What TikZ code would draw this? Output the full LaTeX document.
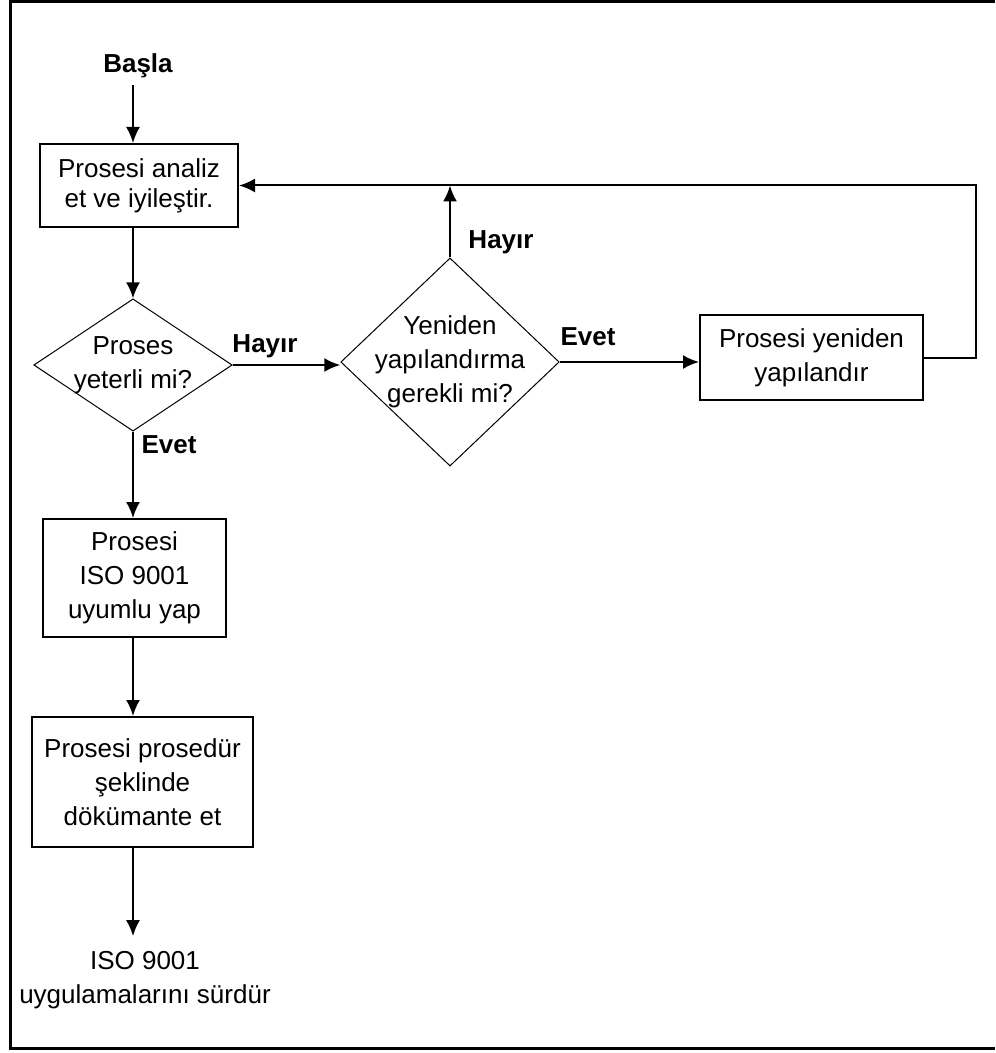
\documentclass[tikz,border=0pt]{standalone}
\usepackage{fontspec}
\setmainfont{Liberation Sans}
\usetikzlibrary{shapes.geometric}
\usetikzlibrary{arrows.meta}

\tikzset{
  txt/.style={font=\fontsize{13pt}{17pt}\selectfont, align=center},
  box/.style={txt, draw, line width=1pt, inner sep=0pt},
  decision/.style={txt, draw, diamond, line width=0.5pt},
  yesno/.style={font=\fontsize{13pt}{17pt}\selectfont\bfseries},
  flow/.style={line width=1pt, -{Latex[length=8pt,width=7pt]}},
}

\begin{document}
\begin{tikzpicture}[x=0.5pt,y=-0.5pt]
    \useasboundingbox (0,0) rectangle (995,1053);
    % frame
    \draw[line width=1.5pt] (995,2) -- (10,2) -- (10,1048) -- (995,1048);

    \node[yesno] (start) at (138,66) {Başla};
    \node[box, minimum width=99pt, minimum height=41.5pt, font=\fontsize{13pt}{15pt}\selectfont] (analyse) at (139,185.5) {Prosesi analiz\\et ve iyileştir.};
    \node[decision, aspect=1.5, inner sep=-0.6pt] (adequate) at (133,365) {Proses\\yeterli mi?};
    \node[decision, aspect=1.05, inner sep=-3.5pt] (restructq) at (450,362) {Yeniden\\yapılandırma\\gerekli mi?};
    \node[box, minimum width=111.5pt, minimum height=42.5pt] (restruct) at (811.5,357.5) {Prosesi yeniden\\yapılandır};
    \node[box, minimum width=91.5pt, minimum height=59pt] (conform) at (134.5,578) {Prosesi\\ISO 9001\\uyumlu yap};
    \node[box, minimum width=110.5pt, minimum height=65pt] (document) at (142.5,782) {Prosesi prosedür\\şeklinde\\dökümante et};
    \node[txt] (maintain) at (145,980) {ISO 9001\\uygulamalarını sürdür};
    \coordinate (back) at (976,185.5);

    % main column
    \draw[flow] (start.south -| adequate) -- (analyse.north -| adequate);
    \draw[flow] (analyse.south -| adequate) -- (adequate.north);
    \draw[flow] (adequate.south) -- (conform.north -| adequate);
    \draw[flow] (conform.south -| adequate) -- (document.north -| adequate);
    \draw[flow, shorten >=4pt] (document.south -| adequate) -- (maintain.north -| adequate);

    % restructure branch
    \draw[flow] (adequate.east) -- (adequate.east -| restructq.west);
    \draw[flow] (restructq.east) -- (restructq.east -| restruct.west);
    \draw[flow] (restructq.north) -- (restructq.north |- back);
    \draw[flow] (restruct.east) -| (back) -- (analyse.east);

    % answers
    \node[yesno] (no1) at (265,346) {Hayır};
    \node[yesno] (yes1) at (169,445) {Evet};
    \node[yesno] (no2) at (501,242) {Hayır};
    \node[yesno] (yes2) at (588,337) {Evet};
\end{tikzpicture}
\end{document}
